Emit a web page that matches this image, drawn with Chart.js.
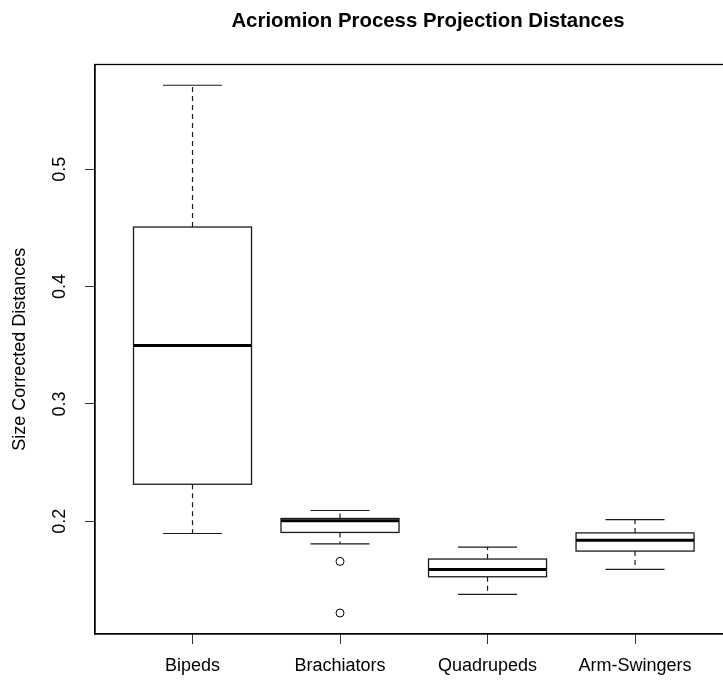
<!DOCTYPE html>
<html>
<head>
<meta charset="utf-8">
<script src="https://cdn.jsdelivr.net/npm/chart.js@4.4.1/dist/chart.umd.min.js"></script>
<style>
  html, body { margin: 0; padding: 0; background: #fff; overflow: hidden; }
  #wrap { width: 856px; height: 686px; }
</style>
</head>
<body>
<div id="wrap"><canvas id="chart" width="856" height="686"></canvas></div>
<script>
const groups = ['Bipeds', 'Brachiators', 'Quadrupeds', 'Arm-Swingers'];
const lowerWhisker = [0.1895, 0.1807, 0.1376, 0.1589];
const q1 = [0.2315, 0.1904, 0.1526, 0.1745];
const median = [0.3498, 0.2003, 0.1589, 0.1838];
const q3 = [0.4508, 0.2023, 0.1677, 0.1900];
const upperWhisker = [0.5717, 0.2091, 0.1779, 0.2014];
const outlierGroup = [2, 2];
const outlierValue = [0.1657, 0.1217];
const yTicks = [0.2, 0.3, 0.4, 0.5];

const FONT = 'Liberation Sans, Arial, sans-serif';

// boxes, whiskers, frame and rotated y labels (R style)
const boxPlugin = {
    id: 'boxes',
    beforeDatasetsDraw(chart) {
        const { ctx, scales: { x, y }, chartArea } = chart;
        ctx.save();
        groups.forEach((g, i) => {
            const cx = x.getPixelForValue(i + 1);
            const half = x.getPixelForValue(i + 1.4) - cx;
            const cap = x.getPixelForValue(i + 1.2) - cx;
            const yLo = y.getPixelForValue(lowerWhisker[i]);
            const yQ1 = y.getPixelForValue(q1[i]);
            const yMed = y.getPixelForValue(median[i]);
            const yQ3 = y.getPixelForValue(q3[i]);
            const yHi = y.getPixelForValue(upperWhisker[i]);

            ctx.strokeStyle = '#1a1a1a';
            ctx.lineWidth = 1.2;
            // whiskers
            ctx.setLineDash([5, 4]);
            ctx.beginPath();
            ctx.moveTo(cx, yQ3); ctx.lineTo(cx, yHi);
            ctx.moveTo(cx, yQ1); ctx.lineTo(cx, yLo);
            ctx.stroke();
            ctx.setLineDash([]);
            ctx.beginPath();
            ctx.moveTo(cx - cap, yHi); ctx.lineTo(cx + cap, yHi);
            ctx.moveTo(cx - cap, yLo); ctx.lineTo(cx + cap, yLo);
            ctx.stroke();
            // box
            ctx.fillStyle = '#fff';
            ctx.fillRect(cx - half, yQ3, half * 2, yQ1 - yQ3);
            ctx.lineWidth = 1.3;
            ctx.strokeRect(cx - half, yQ3, half * 2, yQ1 - yQ3);
            // median
            ctx.strokeStyle = '#000';
            ctx.lineWidth = 3;
            ctx.beginPath();
            ctx.moveTo(cx - half, yMed); ctx.lineTo(cx + half, yMed);
            ctx.stroke();
        });

        // frame
        ctx.strokeStyle = '#000';
        ctx.lineWidth = 1.3;
        ctx.strokeRect(chartArea.left, chartArea.top, chartArea.right - chartArea.left, chartArea.bottom - chartArea.top);

        // y tick labels, rotated like R's las = 0
        ctx.fillStyle = '#000';
        ctx.font = '18px ' + FONT;
        ctx.textAlign = 'center';
        ctx.textBaseline = 'middle';
        yTicks.forEach(v => {
            ctx.save();
            ctx.translate(60, y.getPixelForValue(v));
            ctx.rotate(-Math.PI / 2);
            ctx.fillText(v.toFixed(1), 0, 0);
            ctx.restore();
        });
        ctx.restore();
    }
};

new Chart(document.getElementById('chart'), {
    type: 'scatter',
    data: {
        datasets: [{
            label: 'Outliers',
            data: outlierGroup.map((g, i) => ({ x: g, y: outlierValue[i] })),
            pointRadius: 4,
            pointHoverRadius: 4,
            pointBackgroundColor: '#fff',
            pointBorderColor: '#000',
            pointBorderWidth: 1
        }]
    },
    options: {
        responsive: false,
        animation: false,
        devicePixelRatio: 1,
        layout: { padding: 0 },
        plugins: {
            legend: { display: false },
            tooltip: { enabled: false },
            title: {
                display: true,
                text: 'Acriomion Process Projection Distances',
                color: '#000',
                font: { family: FONT, size: 20.4, weight: 'bold' },
                padding: { top: 9, bottom: 31 }
            }
        },
        scales: {
            x: {
                type: 'linear',
                min: 0.339,
                max: 4.664,
                afterBuildTicks: s => { s.ticks = groups.map((g, i) => ({ value: i + 1 })); },
                afterFit: s => { s.height = 52; },
                ticks: {
                    color: '#000',
                    font: { family: FONT, size: 18 },
                    padding: 11,
                    maxRotation: 0,
                    callback: v => groups[v - 1]
                },
                grid: { drawOnChartArea: false, tickLength: 10, color: '#333' },
                border: { color: '#000', width: 1.3 }
            },
            y: {
                type: 'linear',
                min: 0.1038,
                max: 0.5894,
                afterBuildTicks: s => { s.ticks = yTicks.map(v => ({ value: v })); },
                afterFit: s => { s.width = 95; },
                ticks: { display: false },
                grid: { drawOnChartArea: false, tickLength: 10, color: '#333' },
                border: { color: '#000', width: 1.3 },
                title: {
                    display: true,
                    text: 'Size Corrected Distances',
                    color: '#000',
                    font: { family: FONT, size: 18 },
                    padding: { top: 9, bottom: 0 }
                }
            },
            // empty right margin so the title centres like R's figure region
            margin: {
                type: 'linear',
                position: 'right',
                afterFit: s => { s.width = 123; },
                ticks: { display: false },
                grid: { display: false },
                border: { display: false }
            }
        }
    },
    plugins: [boxPlugin]
});
</script>
</body>
</html>
